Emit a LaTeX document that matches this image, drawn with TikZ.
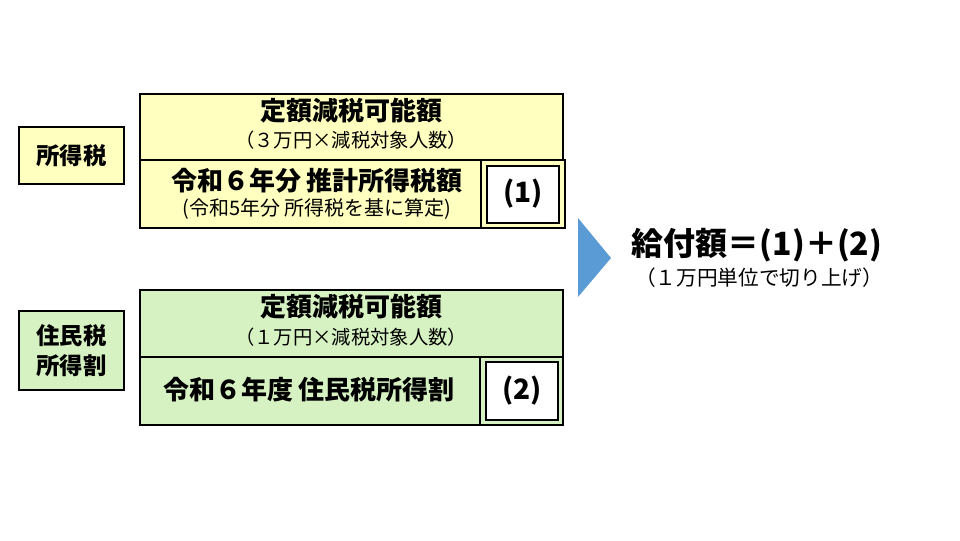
\documentclass[tikz,border=0pt]{standalone}
\usepackage{fontspec}
\setmainfont{Noto Sans CJK JP}
\begin{document}
\begin{tikzpicture}[x=0.75pt,y=-0.75pt,
  bx/.style={draw=black,line width=0.8pt},
  ttl/.style={font=\fontsize{19.5}{22}\selectfont\bfseries},
  sub/.style={font=\fontsize{14.5}{16}\selectfont},
  lbl/.style={font=\fontsize{17.5}{23}\selectfont\bfseries,align=center}]
\definecolor{yel}{HTML}{FFFFC0}
\definecolor{grn}{HTML}{D7F2C2}
\definecolor{arr}{HTML}{5B9BD5}
\useasboundingbox (0,0) rectangle (960,540);
% income tax
\draw[bx,fill=yel] (19,127) rectangle (124,184);
\node[lbl] (l1) at (71.5,155.5) {所得税};
\draw[bx,fill=yel] (140,94) rectangle (563,160);
\node[ttl] (t1) at (351,111) {定額減税可能額};
\node[sub] (s1) at (351,140) {（３万円×減税対象人数）};
\draw[bx,fill=yel] (140,160) rectangle (565,228);
\draw[bx] (481,160) -- (481,228);
\draw[bx,fill=white] (487,166) rectangle (559,223);
\node[ttl] (t2) at (317,181) {令和６年分 推計所得税額};
\node[sub,font=\fontsize{15}{16}\selectfont] (s2) at (317,209) {(令和5年分 所得税を基に算定)};
\node[font=\fontsize{21}{22}\selectfont\bfseries] (n1) at (523,194) {(1)};
% resident tax
\draw[bx,fill=grn] (19,311) rectangle (124,390);
\node[lbl] (l2) at (71.5,350.5) {住民税\\所得割};
\draw[bx,fill=grn] (140,290) rectangle (563,357);
\node[ttl] (t3) at (351,307) {定額減税可能額};
\node[sub] (s3) at (351,337) {（１万円×減税対象人数）};
\draw[bx,fill=grn] (140,357) rectangle (563,425);
\draw[bx] (480,357) -- (480,425);
\draw[bx,fill=white] (486,362) rectangle (558,420);
\node[ttl] (t4) at (309,390) {令和６年度 住民税所得割};
\node[font=\fontsize{21}{22}\selectfont\bfseries] (n2) at (522,391) {(2)};
% arrow
\fill[arr] (578,218) -- (578,297) -- (611,258) -- cycle;
\node[font=\fontsize{24}{26}\selectfont\bfseries] (r1) at (757,245) {給付額＝(1)＋(2)};
\node[sub,font=\fontsize{15.5}{17}\selectfont] (r2) at (759,278) {（１万円単位で切り上げ）};
\end{tikzpicture}
\end{document}
